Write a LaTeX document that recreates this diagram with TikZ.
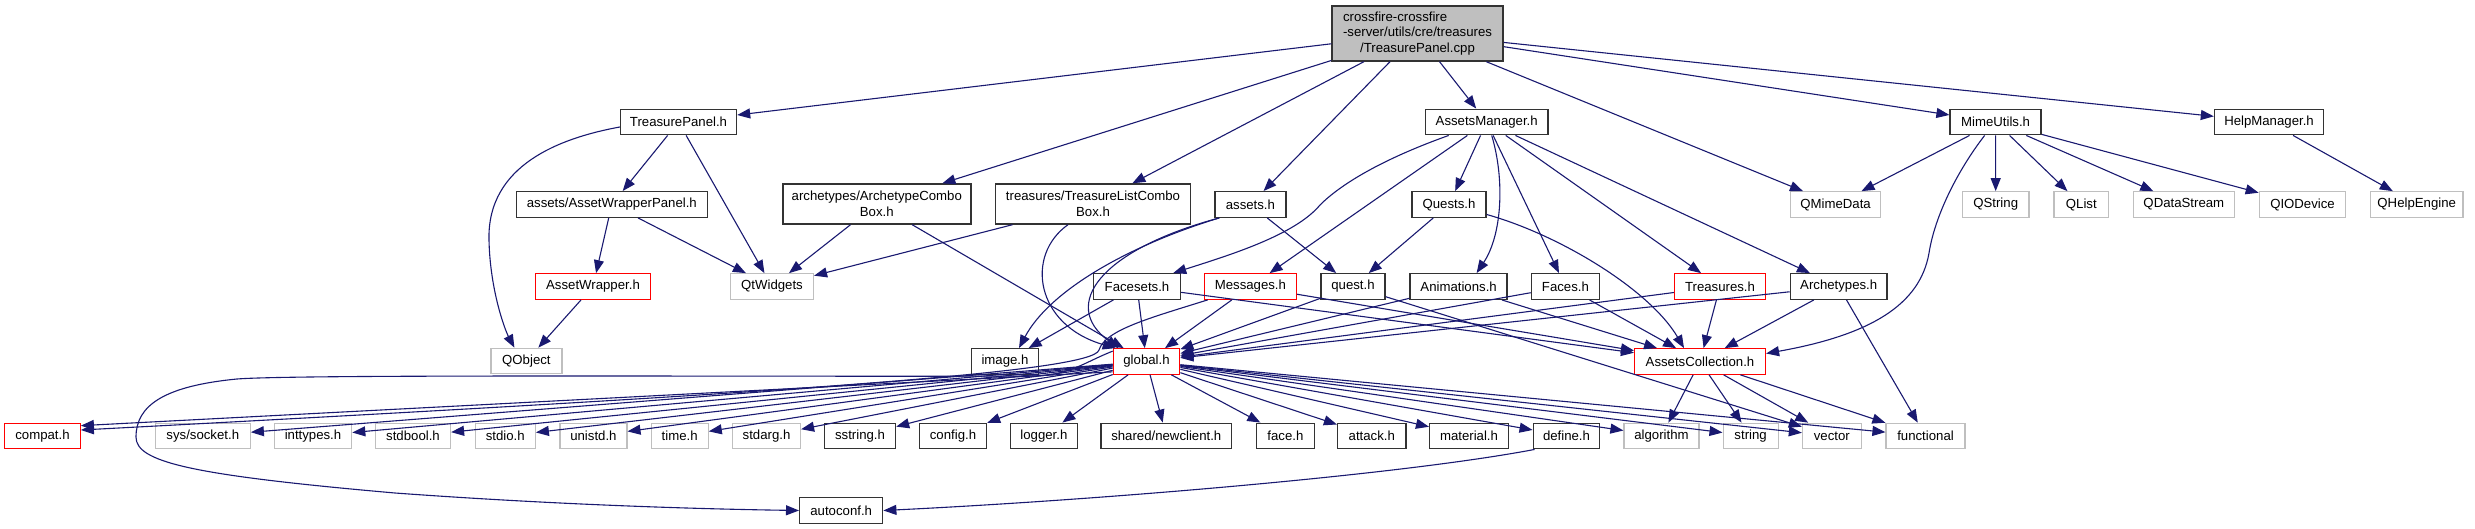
\documentclass[tikz,border=0pt]{standalone}
\usepackage{fontspec}
\setmainfont{Liberation Sans}
\usetikzlibrary{arrows.meta,calc}
\definecolor{mblue}{HTML}{191970}
\definecolor{gry}{HTML}{BFBFBF}
\definecolor{rd}{HTML}{FF0000}
\definecolor{dk}{HTML}{333333}
\newcommand\dgfont{\fontsize{13.2}{15.5}\selectfont}
\tikzset{
  base/.style={rectangle, fill=white, inner sep=0pt, minimum height=25.5pt, font=\dgfont, align=center},
  nb/.style={base, draw=dk, line width=1.4pt},
  nr/.style={base, draw=rd, line width=1.2pt},
  ng/.style={base, draw=gry, line width=1.2pt},
  e/.style={draw=mblue, line width=1.1pt, -{Triangle[length=13pt,width=10pt]}}
}
\begin{document}
\begin{tikzpicture}[x=1pt,y=-1pt]
\useasboundingbox (0,0) rectangle (2475,529);
% rank 0
\node[nb, fill=gry, minimum width=171pt, minimum height=55pt] (root) at (1417.5,33.5)
  {\begin{tabular}{@{}l@{}}crossfire-crossfire\\-server/utils/cre/treasures\\\multicolumn{1}{@{}c@{}}{/TreasurePanel.cpp}\end{tabular}};
% rank 1
\node[nb, minimum width=116pt] (tp) at (678.5,122) {TreasurePanel.h};
\node[nb, minimum width=122.6pt] (am) at (1486.7,122) {AssetsManager.h};
\node[nb, minimum width=91pt] (mu) at (1995.6,122) {MimeUtils.h};
\node[nb, minimum width=109pt] (hm) at (2269,122) {HelpManager.h};
% rank 2
\node[nb, minimum width=191pt] (awp) at (611.8,204.5) {assets/AssetWrapperPanel.h};
\node[nb, minimum width=188pt, minimum height=40pt] (acb) at (876.8,204) {archetypes/ArchetypeCombo\\Box.h};
\node[nb, minimum width=195pt, minimum height=40pt] (tlcb) at (1093,204) {treasures/TreasureListCombo\\Box.h};
\node[nb, minimum width=71pt] (assets) at (1250.4,204.5) {assets.h};
\node[nb, minimum width=74pt] (quests) at (1449,204.5) {Quests.h};
\node[ng, minimum width=90.5pt] (qmime) at (1835.6,204.5) {QMimeData};
\node[ng, minimum width=66.7pt] (qstring) at (1995.7,204.5) {QString};
\node[ng, minimum width=54.7pt] (qlist) at (2081.3,204.5) {QList};
\node[ng, minimum width=101pt] (qds) at (2183.8,204.5) {QDataStream};
\node[ng, minimum width=86.5pt] (qio) at (2302.5,204.5) {QIODevice};
\node[ng, minimum width=92.5pt] (qhelp) at (2416.7,204.5) {QHelpEngine};
% rank 3
\node[nr, minimum width=115pt] (aw) at (593,286.5) {AssetWrapper.h};
\node[ng, minimum width=83pt] (qtw) at (772,286.5) {QtWidgets};
\node[nb, minimum width=87pt] (facesets) at (1137,286.5) {Facesets.h};
\node[nr, minimum width=92pt] (messages) at (1250.4,286.5) {Messages.h};
\node[nb, minimum width=64pt] (quest) at (1353,286.5) {quest.h};
\node[nb, minimum width=97pt] (anims) at (1458.6,286.5) {Animations.h};
\node[nb, minimum width=68pt] (faces) at (1565.4,286.5) {Faces.h};
\node[nr, minimum width=91pt] (treasures) at (1720,286.5) {Treasures.h};
\node[nb, minimum width=96.6pt] (archetypes) at (1838.7,286.5) {Archetypes.h};
% rank 4
\node[ng, minimum width=71pt] (qobject) at (526.4,361) {QObject};
\node[nb, minimum width=67pt] (image) at (1005,361.5) {image.h};
\node[nr, minimum width=66.5pt] (global) at (1146.5,361.5) {global.h};
\node[nr, minimum width=131pt] (ac) at (1700,361.5) {AssetsCollection.h};
% rank 5
\node[nr, minimum width=75.6pt] (compat) at (42.5,436) {compat.h};
\node[ng, minimum width=95pt] (socket) at (202.8,436) {sys/socket.h};
\node[ng, minimum width=77.5pt] (inttypes) at (313,436) {inttypes.h};
\node[ng, minimum width=75pt] (stdbool) at (413,436) {stdbool.h};
\node[ng, minimum width=60pt] (stdio) at (505.3,436) {stdio.h};
\node[ng, minimum width=67pt] (unistd) at (593.4,436) {unistd.h};
\node[ng, minimum width=57pt] (time) at (679.7,436) {time.h};
\node[ng, minimum width=68pt] (stdarg) at (766.5,436) {stdarg.h};
\node[nb, minimum width=71pt] (sstring) at (860,436) {sstring.h};
\node[nb, minimum width=67pt] (config) at (953,436) {config.h};
\node[nb, minimum width=67pt] (logger) at (1043.9,436) {logger.h};
\node[nb, minimum width=130.6pt] (newclient) at (1166.3,436) {shared/newclient.h};
\node[nb, minimum width=58pt] (face) at (1285.4,436) {face.h};
\node[nb, minimum width=68.4pt] (attack) at (1371.8,436) {attack.h};
\node[nb, minimum width=78.7pt] (material) at (1469,436) {material.h};
\node[nb, minimum width=66.5pt] (define) at (1566.5,436) {define.h};
\node[ng, minimum width=75pt] (algorithm) at (1661.5,436) {algorithm};
\node[ng, minimum width=55pt] (string) at (1750.6,436) {string};
\node[ng, minimum width=58.8pt] (vector) at (1831.8,436) {vector};
\node[ng, minimum width=79pt] (functional) at (1925.5,436) {functional};
% rank 6
\node[nb, minimum width=83pt] (autoconf) at (841.2,510.5) {autoconf.h};

% edges from root
\draw[e] (root) -- (tp);
\draw[e] (root) -- (acb);
\draw[e] (root) -- (tlcb);
\draw[e] (root) -- (assets);
\draw[e] (root) -- (am);
\draw[e] (root) -- (qmime);
\draw[e] (root) -- (mu);
\draw[e] (root) -- (hm);
% TreasurePanel.h
\draw[e] ($(tp.west)+(0,5)$) .. controls (560,138) and (487,165) .. (489,240)
  .. controls (490,290) and (505,330) .. ($(qobject.north)+(-12,0)$);
\draw[e] (tp) -- (awp);
\draw[e] (tp) -- (qtw);
% AssetWrapperPanel.h
\draw[e] (awp) -- (aw);
\draw[e] (awp) -- (qtw);
\draw[e] (aw) -- (qobject);
% combo boxes
\draw[e] (acb) -- (qtw);
\draw[e] (acb) -- (global);
\draw[e] (tlcb) -- (qtw);
\draw[e] ($(tlcb.south)+(-25,0)$) .. controls (1025,255) and (1035,325) .. ($(global.north west)+(3,0)$);
% assets.h
\draw[e] ($(assets.south west)+(5,0)$) .. controls (1130,245) and (1050,290) .. ($(image.north)+(14,0)$);
\draw[e] ($(assets.south west)+(5,0)$) .. controls (1100,250) and (1060,305) .. ($(global.north west)+(6,0)$);
\draw[e] (assets) -- (quest);
% AssetsManager.h
\draw[e] ($(am.south west)+(24,0)$) .. controls (1380,160) and (1340,185) .. (1320,205)
  .. controls (1295,235) and (1230,255) .. ($(facesets.north east)+(-8,0)$);
\draw[e] (am) -- (messages);
\draw[e] (am) -- (quests);
\draw[e] ($(am.south)+(5,0)$) .. controls (1505,180) and (1502,235) .. ($(anims.north)+(18,0)$);
\draw[e] (am) -- (faces);
\draw[e] (am) -- (treasures);
\draw[e] (am) -- (archetypes);
% MimeUtils.h
\draw[e] (mu) -- (qmime);
\draw[e] ($(mu.south)+(-11,0)$) .. controls (1958,170) and (1935,215) .. (1929,253)
  .. controls (1920,305) and (1870,335) .. ($(ac.east)+(0,-8)$);
\draw[e] (mu) -- (qstring);
\draw[e] (mu) -- (qlist);
\draw[e] (mu) -- (qds);
\draw[e] (mu) -- (qio);
\draw[e] (hm) -- (qhelp);
% Quests.h
\draw[e] (quests) -- (quest);
\draw[e] ($(quests.east)+(0,10)$) .. controls (1560,235) and (1650,290) .. ($(ac.north)+(-16,0)$);
% rank 3 nodes
\draw[e] (facesets) -- (image);
\draw[e] (facesets) -- (global);
\draw[e] (facesets) -- (ac);
\draw[e] (messages) -- (global);
\draw[e] (messages) -- (ac);
\draw[e] ($(messages.south west)+(4,0)$) .. controls (1150,318) and (1105,330) .. (1099,350)
  .. controls (1093,372) and (800,392) .. ($(compat.east)+(0,-6)$);
\draw[e] (quest) -- (global);
\draw[e] (quest) -- (vector);
\draw[e] (anims) -- (global);
\draw[e] (anims) -- (ac);
\draw[e] (faces) -- (global);
\draw[e] (faces) -- (ac);
\draw[e] (treasures) -- (global);
\draw[e] (treasures) -- (ac);
\draw[e] (archetypes) -- (global);
\draw[e] (archetypes) -- (ac);
\draw[e] (archetypes) -- (functional);
% AssetsCollection.h
\draw[e] (ac) -- (algorithm);
\draw[e] (ac) -- (string);
\draw[e] (ac) -- (vector);
\draw[e] (ac) -- (functional);
% global.h
\draw[e] ($(global.south west)+(0,-3)$) -- ($(compat.north east)+(0,3)$);
\draw[e] (global) -- (socket);
\draw[e] (global) -- (inttypes);
\draw[e] (global) -- (stdbool);
\draw[e] (global) -- (stdio);
\draw[e] (global) -- (unistd);
\draw[e] (global) -- (time);
\draw[e] (global) -- (stdarg);
\draw[e] (global) -- (sstring);
\draw[e] (global) -- (config);
\draw[e] (global) -- (logger);
\draw[e] (global) -- (newclient);
\draw[e] (global) -- (face);
\draw[e] (global) -- (attack);
\draw[e] (global) -- (material);
\draw[e] (global) -- (define);
\draw[e] (global) -- (algorithm);
\draw[e] (global) -- (string);
\draw[e] (global) -- (vector);
\draw[e] (global) -- (functional);
\draw[e] ($(global.north west)+(0,3)$) .. controls (1085,362) and (1070,375) .. (1035,376)
  .. controls (800,377) and (300,374) .. (237,379)
  .. controls (165,386) and (136,405) .. (136,437)
  .. controls (136,462) and (190,475) .. (395,493)
  .. controls (560,505) and (700,509) .. (autoconf.west);
% define.h
\draw[e] ($(define.south west)+(2,0)$) .. controls (1400,475) and (1100,500) .. (autoconf.east);
\end{tikzpicture}
\end{document}
